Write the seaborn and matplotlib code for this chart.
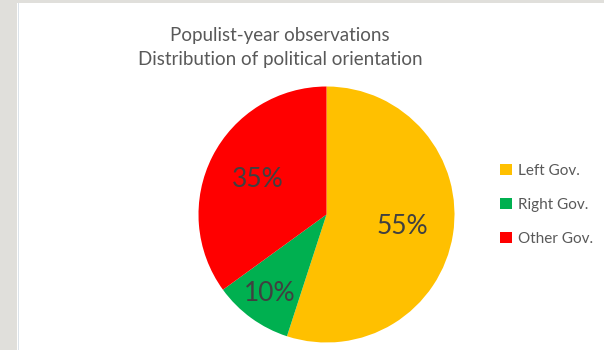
import matplotlib
matplotlib.use("Agg")
import matplotlib.pyplot as plt
import seaborn as sns
from matplotlib.patches import Rectangle, Patch
import numpy as np

categories = ["Left Gov.", "Right Gov.", "Other Gov."]
shares = [55, 10, 35]
colors = ["#FFC000", "#00B050", "#FF0000"]
title_lines = ["Populist-year observations", "Distribution of political orientation"]

sns.set_theme(style="white")
plt.rcParams['font.family'] = ['Lato', 'DejaVu Sans']

W, H = 604, 350
fig = plt.figure(figsize=(W / 100, H / 100), dpi=100)
fig.patch.set_facecolor("#E0DFDB")
# white chart area
fig.patches.append(Rectangle((17 / W, 0), 1, (H - 3) / H, transform=fig.transFigure,
                             facecolor="white", edgecolor="none", zorder=-2))
fig.patches.append(Rectangle((18 / W, 0), 1 / W, (H - 3) / H, transform=fig.transFigure,
                             facecolor="#DCE3EA", edgecolor="none", zorder=-1))

cx, cy, r = 326.5, 214.5, 128
ax = fig.add_axes([(cx - r) / W, (H - cy - r) / H, 2 * r / W, 2 * r / H])
ax.set_facecolor("none")
wedges, texts, autotexts = ax.pie(
    shares, colors=colors, startangle=90, counterclock=False,
    autopct=lambda p: f"{p:.0f}%", pctdistance=0.6,
    wedgeprops=dict(edgecolor="none", linewidth=0),
    textprops=dict(color="#404040", fontsize=19),
)
ax.set_aspect("equal")
ax.set_xlim(-1, 1)
ax.set_ylim(-1, 1)
# Excel best-fit placement of the small slice label
w = wedges[1]
mid = np.deg2rad((w.theta1 + w.theta2) / 2)
autotexts[1].set_position((0.76 * np.cos(mid), 0.76 * np.sin(mid)))

fig.text(280 / W, 1 - 35 / H, title_lines[0], ha="center", va="center",
         fontsize=13.5, color="#595959")
fig.text(280 / W, 1 - 60 / H, title_lines[1], ha="center", va="center",
         fontsize=13.5, color="#595959")

handles = [Patch(facecolor=c, edgecolor="none") for c in colors]
leg = fig.legend(handles, categories, loc="upper left",
                 bbox_to_anchor=(486 / W, 1 - 150 / H), frameon=False,
                 fontsize=11, labelcolor="#595959", handlelength=0.8,
                 handleheight=0.8, handletextpad=0.4, labelspacing=1.3)

fig.savefig("out.png", dpi=100, facecolor=fig.get_facecolor())
